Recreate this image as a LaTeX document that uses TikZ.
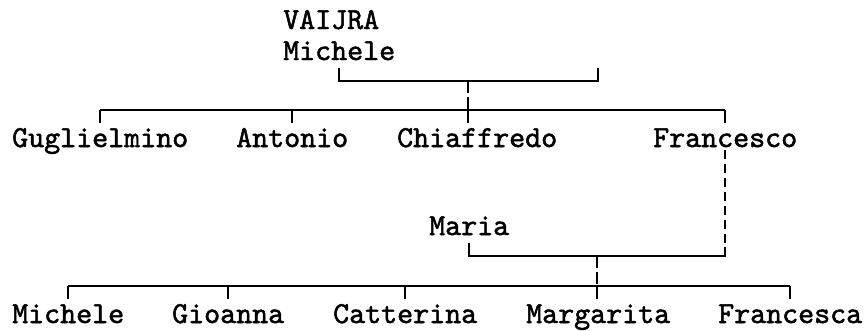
\documentclass[tikz,border=0pt]{standalone}
\usepackage{fontspec}
\usepackage{tikz}
\newfontfamily\treefont{lmmono10-regular.otf}[FakeBold=1.6]

\begin{document}
\begin{tikzpicture}[x=1pt, y=-1pt,
    person/.style={font=\treefont\fontsize{30.48}{34}\selectfont, inner sep=0pt, anchor=base west},
    link/.style={line width=1.8pt},
    drop/.style={link, dash pattern=on 12pt off 4pt},
    spouse/.style={link, dash pattern=on 9pt off 5pt}]
    \useasboundingbox (0,0) rectangle (864,330);

    \node[person] (vaijra) at (283,29) {VAIJRA};
    \node[person] (michele) at (283,60) {Michele};
    \coordinate (wife) at (598,68);
    \coordinate (fam1) at (468,81);
    \coordinate (kids1) at (468,110);

    \node[person] (gugl) at (12,147) {Guglielmino};
    \node[person] (anto) at (236,147) {Antonio};
    \node[person] (chiaf) at (397,147) {Chiaffredo};
    \node[person] (fran) at (653,147) {Francesco};

    \node[person] (maria) at (429,235) {Maria};
    \coordinate (fam2) at (597,256);
    \coordinate (kids2) at (597,286);

    \node[person] (mich2) at (12,323) {Michele};
    \node[person] (gioa) at (172,323) {Gioanna};
    \node[person] (catt) at (333,323) {Catterina};
    \node[person] (marg) at (526,323) {Margarita};
    \node[person] (franca) at (718,323) {Francesca};

    \draw[link] ([yshift=-8pt]michele.base) |- (fam1) -| (wife);
    \draw[drop] (fam1) -- (kids1);
    \draw[link] (kids1) -- ++(0,13);
    \draw[link] (gugl.base |- kids1) -- (fran.base |- kids1);
    \foreach \c in {gugl,anto,fran}
        \draw[link] ([yshift=24pt]\c.base) -- (\c.base |- kids1);

    \draw[spouse] ([yshift=-3pt]fran.base) -- ([yshift=-100pt]fran.base);
    \draw[link] ([yshift=-8pt]maria.base) |- (fam2) -| ([yshift=-100pt]fran.base);
    \draw[drop] (fam2) -- (kids2);
    \draw[link] (kids2) -- ++(0,13);
    \draw[link] (mich2.base |- kids2) -- (franca.base |- kids2);
    \foreach \c in {mich2,gioa,catt,franca}
        \draw[link] ([yshift=24pt]\c.base) -- (\c.base |- kids2);
\end{tikzpicture}
\end{document}
